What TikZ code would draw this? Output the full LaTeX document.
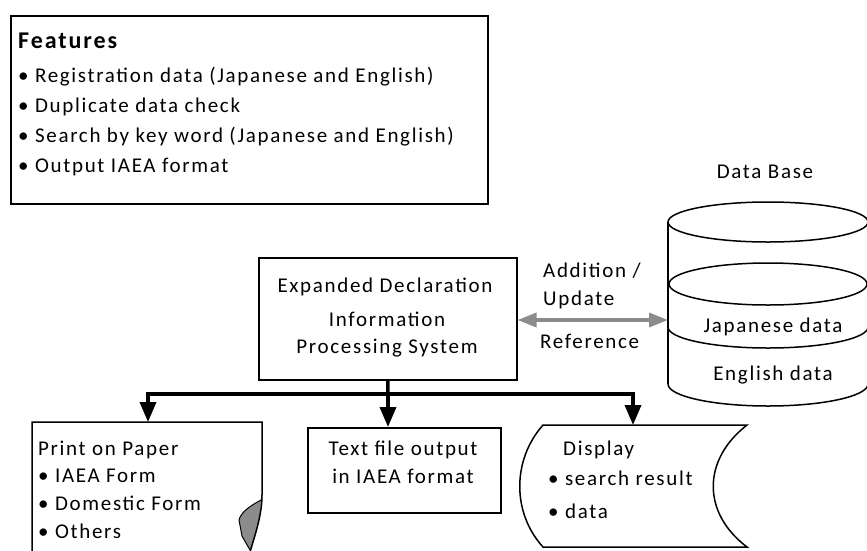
\documentclass[tikz,border=0pt]{standalone}
\usepackage{fontspec}
\setmainfont{Carlito}[LetterSpace=8]
\usetikzlibrary{arrows.meta}
\tikzset{
  txt/.style={inner sep=0pt, font=\fontsize{21}{24}\selectfont},
  boxline/.style={draw=black, line width=1.5pt},
  bus/.style={draw=black, line width=3.5pt},
  busarrow/.style={draw=black, line width=3.5pt, -{Triangle[length=20pt,width=16pt]}, shorten >=0pt},
  grayarrow/.style={draw=black!45, line width=3.5pt, {Triangle[length=19pt,width=14pt]}-{Triangle[length=19pt,width=14pt]}},
}
\begin{document}
\begin{tikzpicture}[x=1pt,y=-1pt]
\useasboundingbox (0,0) rectangle (867,550);
\clip (0,0) rectangle (867,550);
\fill[white] (0,0) rectangle (867,550);

% Features box
\node[boxline, line width=2pt, minimum width=477pt, minimum height=188pt, anchor=north west, inner sep=0pt] (feat) at (10,15) {};
\node[txt, anchor=base west, font=\fontsize{24}{26}\selectfont\bfseries] (fhead) at (18,48) {Features};
\node[txt, anchor=base west] (f1) at (18,82) {• Registration data (Japanese and English)};
\node[txt, anchor=base west] (f2) at (18,112) {• Duplicate data check};
\node[txt, anchor=base west] (f3) at (18,142) {• Search by key word (Japanese and English)};
\node[txt, anchor=base west] (f4) at (18,172) {• Output IAEA format};

% System box
\node[boxline, minimum width=258pt, minimum height=122pt, anchor=north west, inner sep=0pt] (sys) at (258,257) {};
\node[txt, anchor=base] (s1) at (385,292) {Expanded Declaration};
\node[txt, anchor=base] (s2) at (387,326) {Information};
\node[txt, anchor=base] (s3) at (387,353) {Processing System};

% Database cylinder
\node[txt, anchor=base] (dbl) at (765,178) {Data Base};
\draw[line width=1.5pt] (668,222) -- (668,384);
\draw[line width=1.5pt] (868,222) -- (868,384);
\draw[line width=1.5pt] (768,222) ellipse [x radius=100, y radius=20];
\draw[line width=1.5pt] (768,284) ellipse [x radius=99, y radius=21];
\draw[line width=1.5pt] (668,327) arc[start angle=180, end angle=360, x radius=100, y radius=-21];
\draw[line width=1.5pt] (668,384) arc[start angle=180, end angle=360, x radius=100, y radius=-22];
\coordinate (dbL) at (668,320);
\node[txt, anchor=base] (jp) at (773,332) {Japanese data};
\node[txt, anchor=base] (en) at (773,380) {English data};

% gray double arrow
\draw[grayarrow] (sys.east |- dbL) -- (dbL);
\node[txt, anchor=base west] (a1) at (543,277) {Addition /};
\node[txt, anchor=base west] (a2) at (543,305) {Update};
\node[txt, anchor=base west] (a3) at (540,348) {Reference};

% Output boxes
\node[boxline, minimum width=193pt, minimum height=85pt, anchor=north west, inner sep=0pt] (tf) at (307,427) {};
\node[txt, anchor=base] (t1) at (403,455) {Text file output};
\node[txt, anchor=base] (t2) at (403,483) {in IAEA format};

% paper (document shape)
\coordinate (paper) at (148,422);
\fill[black!45] (261,500) .. controls (250,506) and (241,512) .. (239,520) -- (242,536) -- (250,550) .. controls (255,535) and (261,516) .. (261,500) -- cycle;
\draw[boxline] (32,556) -- (32,422) -- (262,422) -- (262,495) .. controls (262,515) and (255,535) .. (250,552);
\draw[line width=1pt] (261,500) .. controls (250,506) and (241,512) .. (239,520) -- (242,536) -- (250,550);
\node[txt, anchor=base west] (p1) at (38,455) {Print on Paper};
\node[txt, anchor=base west] (p2) at (38,482) {• IAEA Form};
\node[txt, anchor=base west] (p3) at (38,510) {• Domestic Form};
\node[txt, anchor=base west] (p4) at (38,538) {• Others};

% display shape
\coordinate (disp) at (633,425);
\draw[boxline] (543,425) -- (747,425) .. controls (702,460) and (702,513) .. (747,547) -- (543,547) .. controls (512,513) and (512,460) .. (543,425) -- cycle;
\node[txt, anchor=base west] (d1) at (563,455) {Display};
\node[txt, anchor=base west] (d2) at (548,485) {• search result};
\node[txt, anchor=base west] (d3) at (548,518) {• data};

% bus
\coordinate (bus) at (388,394);
\coordinate (busL) at (148,394);
\coordinate (busR) at (633,394);
\draw[bus] (sys.south) -- (bus);
\draw[bus] ([xshift=-1.75pt]busL) -- ([xshift=1.75pt]busR);
\draw[busarrow] (busL) -- (paper);
\draw[busarrow] (bus) -- (bus |- tf.north);
\draw[busarrow] (busR) -- (disp);
\end{tikzpicture}
\end{document}
